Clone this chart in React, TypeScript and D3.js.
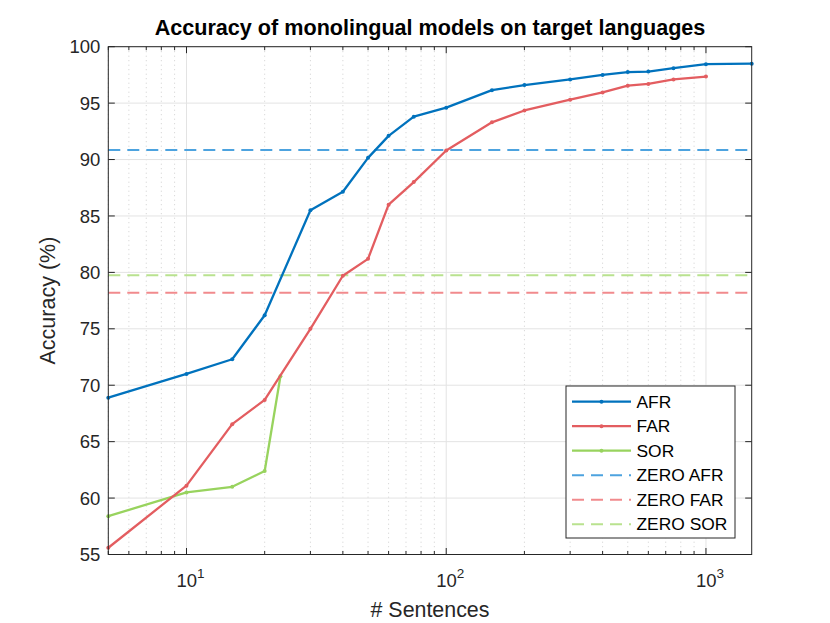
import { useEffect, useRef } from "react"
import * as d3 from "d3"

// sentence counts (x) and accuracies (%)
const afrSizes = [5, 10, 15, 20, 30, 40, 50, 60, 75, 100, 150, 200, 300, 400, 500, 600, 750, 1000, 1500]
const afrAcc = [68.9, 71.0, 72.3, 76.2, 85.5, 87.15, 90.15, 92.1, 93.8, 94.6, 96.15, 96.6, 97.1, 97.5, 97.75, 97.8, 98.1, 98.45, 98.5]

const farSizes = [5, 10, 15, 20, 30, 40, 50, 60, 75, 100, 150, 200, 300, 400, 500, 600, 750, 1000]
const farAcc = [55.6, 61.1, 66.55, 68.7, 75.0, 79.7, 81.2, 86.0, 88.0, 90.8, 93.3, 94.35, 95.3, 95.95, 96.55, 96.7, 97.1, 97.35]

const sorSizes = [5, 10, 15, 20, 23]
const sorAcc = [58.4, 60.5, 61.0, 62.4, 70.8]

// zero-shot baselines
const zeroNames = ["ZERO AFR", "ZERO FAR", "ZERO SOR"]
const zeroAcc = [90.85, 78.2, 79.75]

const yTicks = [55, 60, 65, 70, 75, 80, 85, 90, 95, 100]
const xMajor = [10, 100, 1000]
const xMinor = [5, 6, 7, 8, 9, 20, 30, 40, 50, 60, 70, 80, 90, 200, 300, 400, 500, 600, 700, 800, 900]

const W = 830
const H = 623
const FONT = "'Liberation Sans', Arial, Helvetica, sans-serif"

export default function App() {
  const ref = useRef<SVGSVGElement>(null)

  useEffect(() => {
    const el = ref.current
    if (!el || el.childElementCount > 0) return

    const left = 108.3
    const right = 751.7
    const top = 46.7
    const bottom = 554.5

    const x = d3.scaleLog().domain([5, 1500]).range([left, right])
    const y = d3.scaleLinear().domain([55, 100]).range([bottom, top])

    const svg = d3.select(el)
    svg.append("rect").attr("width", W).attr("height", H).attr("fill", "#fff")

    const grid = svg.append("g")
    // minor x grid (dotted)
    grid
      .selectAll(".minor")
      .data(xMinor)
      .enter()
      .append("line")
      .attr("x1", (d) => x(d))
      .attr("x2", (d) => x(d))
      .attr("y1", top)
      .attr("y2", bottom)
      .attr("stroke", "#cfcfcf")
      .attr("stroke-width", 1)
      .attr("stroke-dasharray", "1,3.5")
    // major grid
    grid
      .selectAll(".vmajor")
      .data(xMajor)
      .enter()
      .append("line")
      .attr("x1", (d) => x(d))
      .attr("x2", (d) => x(d))
      .attr("y1", top)
      .attr("y2", bottom)
      .attr("stroke", "#e3e3e3")
      .attr("stroke-width", 1)
    grid
      .selectAll(".hmajor")
      .data(yTicks)
      .enter()
      .append("line")
      .attr("x1", left)
      .attr("x2", right)
      .attr("y1", (d) => y(d))
      .attr("y2", (d) => y(d))
      .attr("stroke", "#e3e3e3")
      .attr("stroke-width", 1)

    const colors = {
      afr: "#0072bd",
      far: "#e35d60",
      sor: "#98d35e",
      zAfr: "#4da3df",
      zFar: "#f18a8d",
      zSor: "#b9e28f",
    }
    const zeroColors = [colors.zAfr, colors.zFar, colors.zSor]

    // dashed baselines
    svg
      .selectAll(".zero")
      .data(zeroAcc)
      .enter()
      .append("line")
      .attr("x1", left)
      .attr("x2", right)
      .attr("y1", (d) => y(d))
      .attr("y2", (d) => y(d))
      .attr("stroke", (_, i) => zeroColors[i])
      .attr("stroke-width", 2)
      .attr("stroke-dasharray", "12,7")

    const line = d3
      .line<[number, number]>()
      .x((d) => x(d[0]))
      .y((d) => y(d[1]))

    const series = [
      { name: "AFR", sizes: afrSizes, acc: afrAcc, color: colors.afr },
      { name: "FAR", sizes: farSizes, acc: farAcc, color: colors.far },
      { name: "SOR", sizes: sorSizes, acc: sorAcc, color: colors.sor },
    ]

    // draw SOR first so AFR ends on top, like the figure
    ;[...series].reverse().forEach((s) => {
      const pts = s.sizes.map((v, i) => [v, s.acc[i]] as [number, number])
      svg
        .append("path")
        .attr("d", line(pts))
        .attr("fill", "none")
        .attr("stroke", s.color)
        .attr("stroke-width", 2.3)
        .attr("stroke-linejoin", "round")
      svg
        .append("g")
        .selectAll("circle")
        .data(pts)
        .enter()
        .append("circle")
        .attr("cx", (d) => x(d[0]))
        .attr("cy", (d) => y(d[1]))
        .attr("r", 2)
        .attr("fill", s.color)
    })

    // axes box and ticks
    const axisColor = "#262626"
    svg
      .append("rect")
      .attr("x", left)
      .attr("y", top)
      .attr("width", right - left)
      .attr("height", bottom - top)
      .attr("fill", "none")
      .attr("stroke", axisColor)
      .attr("stroke-width", 1)

    const ticks = svg.append("g").attr("stroke", axisColor).attr("stroke-width", 1)
    xMajor.forEach((d) => {
      ticks.append("line").attr("x1", x(d)).attr("x2", x(d)).attr("y1", bottom).attr("y2", bottom - 6.5)
      ticks.append("line").attr("x1", x(d)).attr("x2", x(d)).attr("y1", top).attr("y2", top + 6.5)
    })
    xMinor.forEach((d) => {
      ticks.append("line").attr("x1", x(d)).attr("x2", x(d)).attr("y1", bottom).attr("y2", bottom - 3.5)
      ticks.append("line").attr("x1", x(d)).attr("x2", x(d)).attr("y1", top).attr("y2", top + 3.5)
    })
    yTicks.forEach((d) => {
      ticks.append("line").attr("x1", left).attr("x2", left + 6.5).attr("y1", y(d)).attr("y2", y(d))
      ticks.append("line").attr("x1", right).attr("x2", right - 6.5).attr("y1", y(d)).attr("y2", y(d))
    })

    // y tick labels
    svg
      .append("g")
      .selectAll("text")
      .data(yTicks)
      .enter()
      .append("text")
      .attr("x", left - 8)
      .attr("y", (d) => y(d))
      .attr("dy", "0.36em")
      .attr("text-anchor", "end")
      .attr("font-family", FONT)
      .attr("font-size", 18.5)
      .attr("fill", axisColor)
      .text((d) => d)

    // x tick labels 10^n
    xMajor.forEach((d) => {
      const t = svg
        .append("text")
        .attr("x", x(d) + 4)
        .attr("y", 586.5)
        .attr("text-anchor", "middle")
        .attr("font-family", FONT)
        .attr("font-size", 18.5)
        .attr("fill", axisColor)
      t.append("tspan").text("10")
      t.append("tspan")
        .attr("dy", -9)
        .attr("font-size", 13.5)
        .text(String(Math.round(Math.log10(d))))
    })

    // axis labels and title
    svg
      .append("text")
      .attr("x", (left + right) / 2)
      .attr("y", 617)
      .attr("text-anchor", "middle")
      .attr("font-family", FONT)
      .attr("font-size", 21.4)
      .attr("fill", axisColor)
      .text("# Sentences")
    svg
      .append("text")
      .attr("transform", `translate(55,${(top + bottom) / 2}) rotate(-90)`)
      .attr("text-anchor", "middle")
      .attr("font-family", FONT)
      .attr("font-size", 21.5)
      .attr("fill", axisColor)
      .text("Accuracy (%)")
    svg
      .append("text")
      .attr("x", (left + right) / 2)
      .attr("y", 35)
      .attr("text-anchor", "middle")
      .attr("font-family", FONT)
      .attr("font-size", 21.6)
      .attr("font-weight", "bold")
      .attr("fill", "#000")
      .text("Accuracy of monolingual models on target languages")

    // legend
    const lg = svg.append("g")
    lg.append("rect")
      .attr("x", 566)
      .attr("y", 386)
      .attr("width", 169)
      .attr("height", 152)
      .attr("fill", "#fff")
      .attr("stroke", axisColor)
      .attr("stroke-width", 1)
    const entries = [
      ...series.map((s) => ({ name: s.name, color: s.color, dashed: false })),
      ...zeroNames.map((n, i) => ({ name: n, color: zeroColors[i], dashed: true })),
    ]
    entries.forEach((e, i) => {
      const ly = 401.7 + i * 24.5
      lg.append("line")
        .attr("x1", 572)
        .attr("x2", 631)
        .attr("y1", ly)
        .attr("y2", ly)
        .attr("stroke", e.color)
        .attr("stroke-width", e.dashed ? 2 : 2.3)
        .attr("stroke-dasharray", e.dashed ? "12,7" : null)
      if (!e.dashed) {
        lg.append("circle").attr("cx", 601.5).attr("cy", ly).attr("r", 2).attr("fill", e.color)
      }
      lg.append("text")
        .attr("x", 636.5)
        .attr("y", ly)
        .attr("dy", "0.36em")
        .attr("font-family", FONT)
        .attr("font-size", 17.4)
        .attr("fill", "#000")
        .text(e.name)
    })
  }, [])

  return (
    <svg
      ref={ref}
      width={W}
      height={H}
      viewBox={`0 0 ${W} ${H}`}
      style={{ position: "absolute", left: 0, top: 0 }}
    />
  )
}
